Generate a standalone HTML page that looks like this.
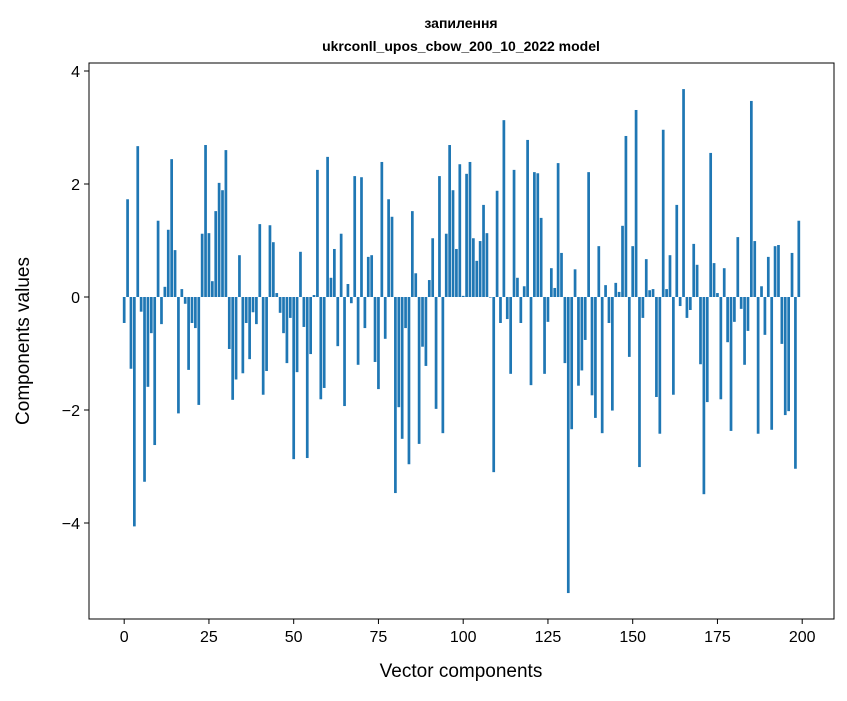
<!DOCTYPE html>
<html><head><meta charset="utf-8"><style>
body{margin:0;background:#fff;}
svg{font-family:"Liberation Sans","DejaVu Sans",sans-serif;}
</style></head><body>
<svg id="chart" width="847" height="696" xmlns="http://www.w3.org/2000/svg">
<rect width="847" height="696" fill="#fff"/>
<text x="461" y="28" text-anchor="middle" font-size="14" font-weight="bold">запилення</text>
<text x="461" y="51" text-anchor="middle" font-size="14" font-weight="bold">ukrconll_upos_cbow_200_10_2022 model</text>
<g id="bars"></g>
<g id="xticks"></g>
<g id="yticks"></g>
<rect x="89" y="63" width="745" height="556" fill="none" stroke="#000" stroke-width="1"/>
<text x="461" y="677" text-anchor="middle" font-size="19">Vector components</text>
<text transform="translate(29,341) rotate(-90)" text-anchor="middle" font-size="19">Components values</text>
</svg>
<script>
const values = [-0.46,1.73,-1.27,-4.06,2.67,-0.26,-3.27,-1.59,-0.64,-2.62,
1.35,-0.48,0.18,1.19,2.44,0.83,-2.06,0.14,-0.12,-1.29,
-0.46,-0.55,-1.91,1.12,2.69,1.13,0.28,1.52,2.02,1.89,
2.60,-0.92,-1.82,-1.46,0.74,-1.35,-0.46,-1.10,-0.27,-0.48,
1.29,-1.73,-1.31,1.27,0.97,0.07,-0.28,-0.64,-1.17,-0.37,
-2.87,-1.33,0.80,-0.53,-2.85,-1.01,0.035,2.25,-1.81,-1.61,
2.48,0.34,0.85,-0.87,1.12,-1.93,0.23,-0.11,2.14,-1.20,
2.12,-0.55,0.71,0.74,-1.15,-1.63,2.39,-0.74,1.73,1.42,
-3.47,-1.95,-2.51,-0.55,-2.96,1.52,0.42,-2.60,-0.88,-1.22,
0.30,1.04,-1.98,2.14,-2.41,1.12,2.69,1.89,0.85,2.35,
0.02,2.18,2.39,1.04,0.64,0.99,1.63,1.13,-0.01,-3.10,
1.88,-0.46,3.13,-0.39,-1.36,2.25,0.34,-0.46,0.19,2.78,
-1.56,2.21,2.19,1.40,-1.36,-0.44,0.51,0.16,2.37,0.78,
-1.17,-5.24,-2.34,0.49,-1.57,-1.30,-0.76,2.21,-1.74,-2.14,
0.90,-2.41,0.21,-0.46,-2.01,0.25,0.09,1.26,2.85,-1.06,
0.90,3.31,-3.01,-0.37,0.67,0.12,0.14,-1.77,-2.42,2.96,
0.14,0.74,-1.73,1.63,-0.16,3.68,-0.37,-0.23,0.94,0.57,
-1.19,-3.49,-1.86,2.55,0.60,0.07,-1.81,0.51,-0.80,-2.37,
-0.44,1.06,-0.21,-1.20,-0.60,3.47,0.99,-2.42,0.19,-0.67,
0.71,-2.35,0.90,0.92,-0.83,-2.09,-2.02,0.78,-3.04,1.35];
const xTickValues = [0,25,50,75,100,125,150,175,200];
const yTickValues = [-4,-2,0,2,4];
const yTickLabels = ["\u22124","\u22122","0","2","4"];

const NS="http://www.w3.org/2000/svg";
const X0=89,X1=834,Y0=63,Y1=619;
const xMin=-10.38,xMax=209.38;
const yZeroPx=297,yUnit=56.5;
function xs(v){return X0+(v-xMin)*(X1-X0)/(xMax-xMin);}
function ys(v){return yZeroPx-v*yUnit;}
const bw=0.8*(X1-X0)/(xMax-xMin);
const gb=document.getElementById('bars');
values.forEach((v,i)=>{
  const r=document.createElementNS(NS,'rect');
  
  
  const y=Math.min(ys(v),ys(0));
  r.setAttribute('x',xs(i)-bw/2);
  r.setAttribute('y',y);
  r.setAttribute('width',bw);
  r.setAttribute('height',Math.abs(ys(v)-ys(0)));
  r.setAttribute('fill','#1f77b4');
  gb.appendChild(r);
});
const gx=document.getElementById('xticks');
xTickValues.forEach(t=>{
  const l=document.createElementNS(NS,'line');
  
  
  l.setAttribute('x1',xs(t));l.setAttribute('x2',xs(t));
  l.setAttribute('y1',Y1);l.setAttribute('y2',Y1+5);
  l.setAttribute('stroke','#000');
  gx.appendChild(l);
  const tx=document.createElementNS(NS,'text');
  
  
  tx.setAttribute('x',xs(t));tx.setAttribute('y',Y1+23);
  tx.setAttribute('text-anchor','middle');tx.setAttribute('font-size','16');
  tx.textContent=String(t);
  gx.appendChild(tx);
});
const gy=document.getElementById('yticks');
yTickValues.forEach((t,i)=>{
  const l=document.createElementNS(NS,'line');
  
  
  l.setAttribute('x1',X0-5);l.setAttribute('x2',X0);
  l.setAttribute('y1',ys(t));l.setAttribute('y2',ys(t));
  l.setAttribute('stroke','#000');
  gy.appendChild(l);
  const tx=document.createElementNS(NS,'text');
  
  
  tx.setAttribute('x',X0-9);tx.setAttribute('y',ys(t)+6);
  tx.setAttribute('text-anchor','end');tx.setAttribute('font-size','16');
  tx.textContent=yTickLabels[i];
  gy.appendChild(tx);
});
</script>
</body></html>
